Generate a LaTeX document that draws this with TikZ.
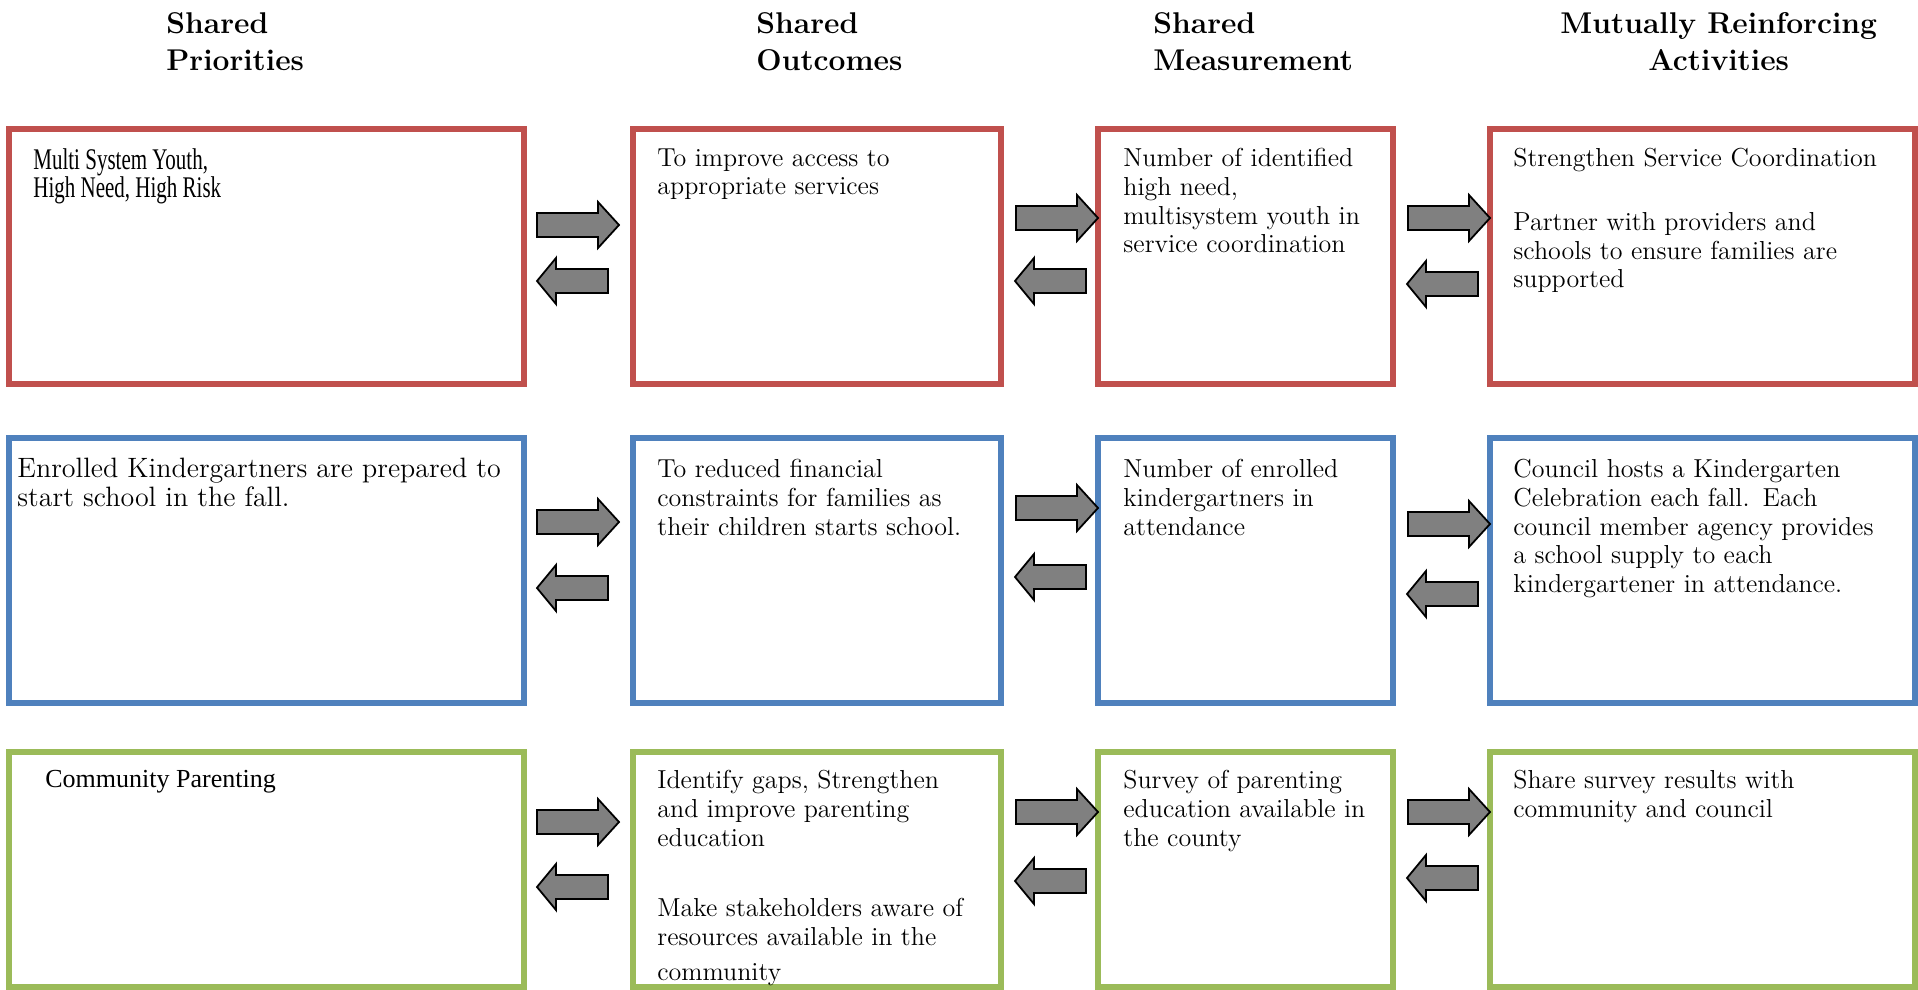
\documentclass[tikz,border=0pt]{standalone}
\usepackage{fontspec}
\usepackage{tikz}
\usetikzlibrary{calc}

\newfontfamily\condfont[FakeStretch=0.7]{Liberation Serif}
\newfontfamily\timesfont{Liberation Serif}

\definecolor{boxred}{HTML}{C0504D}
\definecolor{boxblue}{HTML}{4F81BD}
\definecolor{boxgreen}{HTML}{9BBB59}
\definecolor{arrgray}{HTML}{808080}

\tikzset{
  cellbox/.style={draw=#1, line width=3.25pt, inner sep=0pt, outer sep=0pt, anchor=north west},
  head/.style={font=\bfseries\fontsize{15}{18.5}\selectfont, align=left, anchor=north west, inner sep=0pt},
  txt/.style={font=\fontsize{13}{14.35}\selectfont, align=left, anchor=north west, inner sep=0pt},
  arr/.style={draw=black, line width=0.9pt, fill=arrgray, line join=miter},
  rarr/.pic={\draw[arr] (-82,-12) -- (-21,-12) -- (-21,-23) -- (0,0) -- (-21,23) -- (-21,12) -- (-82,12) -- cycle;},
  larr/.pic={\draw[arr] (0,0) -- (19,-23) -- (19,-12) -- (71,-12) -- (71,12) -- (19,12) -- (19,23) -- cycle;}
}

\begin{document}
\begin{tikzpicture}[x=0.5pt,y=-0.5pt]
        \useasboundingbox (0,0) rectangle (1918,990);

        % Column headers
        \node[head] (hp) at (166,12) {Shared\\Priorities};
        \node[head] (ho) at (756,12) {Shared\\Outcomes};
        \node[head] (hm) at (1153,12) {Shared\\Measurement};
        \node[head] (ha) at (1560,12) {Mutually Reinforcing\\\hspace*{44pt}Activities};

        % Row 1 (red)
        \node[cellbox=boxred, minimum width=257.5pt, minimum height=127.5pt] (p1) at (9,129) {};
        \node[cellbox=boxred, minimum width=184pt, minimum height=127.5pt] (o1) at (633,129) {};
        \node[cellbox=boxred, minimum width=147.5pt, minimum height=127.5pt] (m1) at (1098,129) {};
        \node[cellbox=boxred, minimum width=212.5pt, minimum height=127.5pt] (a1) at (1490,129) {};
        \node[txt, font=\condfont\fontsize{15}{14.35}\selectfont] (tp1) at ($(p1.north west)+(24,19)$) {Multi System Youth,\\High Need, High Risk};
        \node[txt] (to1) at ($(o1.north west)+(24,19)$) {To improve access to\\appropriate services};
        \node[txt] (tm1) at ($(m1.north west)+(25,19)$) {Number of identified\\high need,\\multisystem youth in\\service coordination};
        \node[txt] (ta1) at ($(a1.north west)+(23,19)$) {Strengthen Service Coordination\\[17.5pt]Partner with providers and\\schools to ensure families are\\supported};
        \pic at ($(o1.north west)+(-14,96)$) {rarr};
        \pic at ($(p1.north east)+(13,152)$) {larr};
        \pic at ($(m1.north west)+(0,89)$) {rarr};
        \pic at ($(o1.north east)+(14,152)$) {larr};
        \pic at ($(a1.north west)+(0,89)$) {rarr};
        \pic at ($(m1.north east)+(14,155)$) {larr};

        % Row 2 (blue)
        \node[cellbox=boxblue, minimum width=257.5pt, minimum height=132.5pt] (p2) at (9,438) {};
        \node[cellbox=boxblue, minimum width=184pt, minimum height=132.5pt] (o2) at (633,438) {};
        \node[cellbox=boxblue, minimum width=147.5pt, minimum height=132.5pt] (m2) at (1098,438) {};
        \node[cellbox=boxblue, minimum width=212.5pt, minimum height=132.5pt] (a2) at (1490,438) {};
        \node[txt, font=\fontsize{14}{14.35}\selectfont] (tp2) at ($(p2.north west)+(8,20)$) {Enrolled Kindergartners are prepared to\\start school in the fall.};
        \node[txt] (to2) at ($(o2.north west)+(24,21)$) {To reduced financial\\constraints for families as\\their children starts school.};
        \node[txt] (tm2) at ($(m2.north west)+(25,21)$) {Number of enrolled\\kindergartners in\\attendance};
        \node[txt] (ta2) at ($(a2.north west)+(23,21)$) {Council hosts a Kindergarten\\Celebration each fall.\enspace Each\\council member agency provides\\a school supply to each\\kindergartener in attendance.};
        \pic at ($(o2.north west)+(-14,84)$) {rarr};
        \pic at ($(p2.north east)+(13,150)$) {larr};
        \pic at ($(m2.north west)+(0,70)$) {rarr};
        \pic at ($(o2.north east)+(14,139)$) {larr};
        \pic at ($(a2.north west)+(0,86)$) {rarr};
        \pic at ($(m2.north east)+(14,156)$) {larr};

        % Row 3 (green)
        \node[cellbox=boxgreen, minimum width=257.5pt, minimum height=117.5pt] (p3) at (9,752) {};
        \node[cellbox=boxgreen, minimum width=184pt, minimum height=117.5pt] (o3) at (633,752) {};
        \node[cellbox=boxgreen, minimum width=147.5pt, minimum height=117.5pt] (m3) at (1098,752) {};
        \node[cellbox=boxgreen, minimum width=212.5pt, minimum height=117.5pt] (a3) at (1490,752) {};
        \node[txt, font=\timesfont\fontsize{13}{15}\selectfont] (tp3) at ($(p3.north west)+(36,18)$) {Community Parenting};
        \node[txt] (to3) at ($(o3.north west)+(24,18)$) {Identify gaps, Strengthen\\and improve parenting\\education\\[21pt]Make stakeholders aware of\\resources available in the\\[3pt]community};
        \node[txt] (tm3) at ($(m3.north west)+(25,18)$) {Survey of parenting\\education available in\\the county};
        \node[txt] (ta3) at ($(a3.north west)+(23,18)$) {Share survey results with\\community and council};
        \pic at ($(o3.north west)+(-14,70)$) {rarr};
        \pic at ($(p3.north east)+(13,135)$) {larr};
        \pic at ($(m3.north west)+(0,60)$) {rarr};
        \pic at ($(o3.north east)+(14,129)$) {larr};
        \pic at ($(a3.north west)+(0,60)$) {rarr};
        \pic at ($(m3.north east)+(14,126)$) {larr};
    \end{tikzpicture}
\end{document}
